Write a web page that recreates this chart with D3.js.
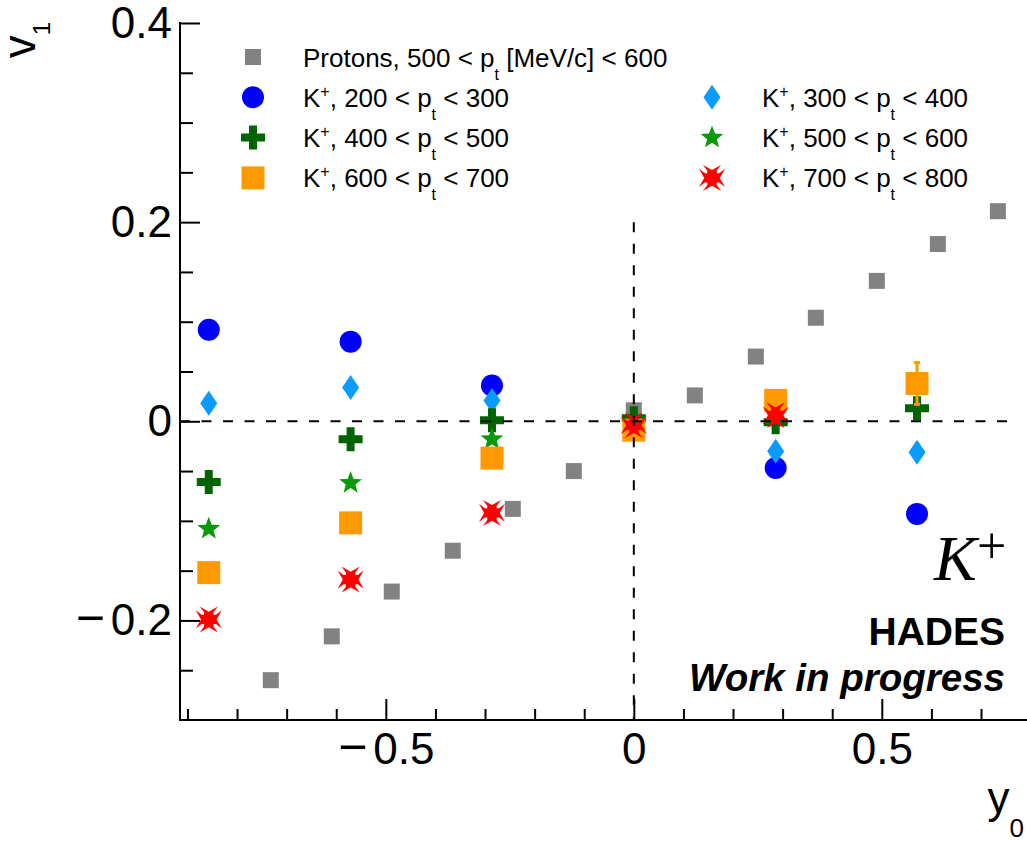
<!DOCTYPE html>
<html>
<head>
<meta charset="utf-8">
<script src="https://cdn.jsdelivr.net/npm/d3@7/dist/d3.min.js"></script>
<style>
  body { margin: 0; background: #fff; }
  svg { display: block; font-family: "Liberation Sans", Arial, Helvetica, sans-serif; }
</style>
</head>
<body>
<div id="plot"></div>
<script>
// rapidity bins of the K+ points
var kY0 = [-0.857, -0.571, -0.286, 0, 0.286, 0.571];

// protons, 500 < pt < 600
var protonY0 = [-0.732, -0.609, -0.488, -0.365, -0.244, -0.121, 0, 0.123, 0.246, 0.367, 0.490, 0.613, 0.734];
var protonV1 = [-0.260, -0.216, -0.171, -0.130, -0.088, -0.050, 0.011, 0.026, 0.065, 0.104, 0.141, 0.178, 0.211];

// K+ v1 per pt bin (null = not drawn)
var k200 = [0.092, 0.080, 0.036, null, -0.047, -0.093];
var k300 = [0.018, 0.034, 0.021, null, -0.030, -0.031];
var k400 = [-0.061, -0.018, 0.001, 0.003, -0.001, 0.013];
var k500 = [-0.108, -0.062, -0.018, null, null, null];
var k600 = [-0.152, -0.102, -0.037, -0.009, 0.021, 0.038];
var k700 = [-0.199, -0.159, -0.092, -0.004, 0.006, null];
var k600Err = [0, 0, 0, 0, 0, 0.021];

var legendLabels = [
  "Protons, 500 < p_t [MeV/c] < 600",
  "K^+, 200 < p_t < 300",
  "K^+, 300 < p_t < 400",
  "K^+, 400 < p_t < 500",
  "K^+, 500 < p_t < 600",
  "K^+, 600 < p_t < 700",
  "K^+, 700 < p_t < 800"
];

var xMajorTicks = [-0.5, 0, 0.5];
var xMinorTicks = [-0.9, -0.8, -0.7, -0.6, -0.4, -0.3, -0.2, -0.1, 0.1, 0.2, 0.3, 0.4, 0.6, 0.7];
var yMajorTicks = [-0.2, 0, 0.2, 0.4];
var yMinorTicks = [-0.25, -0.15, -0.1, -0.05, 0.05, 0.1, 0.15, 0.25, 0.3, 0.35];

// dashed reference lines
var zeroLineX = [-0.915, 0.765];
var midLineV = [-0.3, 0.2];

var width = 1027, height = 841;

var x = d3.scaleLinear().domain([-0.915, 0.8]).range([180, 1030.6]);
var y = d3.scaleLinear().domain([-0.3, 0.4]).range([720, 23]);

var svg = d3.select("#plot").append("svg")
  .attr("width", width)
  .attr("height", height);

// marker shapes, centred on 0,0
function markerPath(type, s) {
  var h = s / 2, p;
  if (type == "square") {
    return "M" + (-h) + "," + (-h) + "h" + s + "v" + s + "h" + (-s) + "Z";
  }
  if (type == "circle") {
    return "M" + (-h) + ",0A" + h + "," + h + " 0 1,0 " + h + ",0A" + h + "," + h + " 0 1,0 " + (-h) + ",0Z";
  }
  if (type == "diamond") {
    var w = s * 0.34;
    return "M0," + (-h) + "L" + w + ",0L0," + h + "L" + (-w) + ",0Z";
  }
  if (type == "cross") {
    var t = s / 6;
    p = [[-t,-h],[t,-h],[t,-t],[h,-t],[h,t],[t,t],[t,h],[-t,h],[-t,t],[-h,t],[-h,-t],[-t,-t]];
    return "M" + p.join("L") + "Z";
  }
  if (type == "star") {
    p = [];
    for (var i = 0; i < 10; i++) {
      var r = i % 2 ? h * 0.42 : h;
      var a = -Math.PI / 2 + i * Math.PI / 5;
      p.push([r * Math.cos(a), r * Math.sin(a)]);
    }
    return "M" + p.join("L") + "Z";
  }
  // notched cross (red)
  var c = 0.36 * h, e = 0.7 * h, n = 0.6 * h, k = 0.55 * h;
  p = [[-c,-c],[-c,-k],[-e,-h],[0,-n],[e,-h],[c,-k],[c,-c],
       [k,-c],[h,-e],[n,0],[h,e],[k,c],[c,c],
       [c,k],[e,h],[0,n],[-e,h],[-c,k],[-c,c],
       [-k,c],[-h,e],[-n,0],[-h,-e],[-k,-c]];
  return "M" + p.join("L") + "Z";
}

var series = [
  {y0: protonY0, v: protonV1, shape: "square", size: 16, color: "#828282"},
  {y0: kY0, v: k200, shape: "circle", size: 22, color: "#0000ff"},
  {y0: kY0, v: k300, shape: "diamond", size: 25, color: "#0a9bff"},
  {y0: kY0, v: k400, shape: "cross", size: 24, color: "#006400"},
  {y0: kY0, v: k500, shape: "star", size: 24, color: "#0a990a"},
  {y0: kY0, v: k600, err: k600Err, shape: "square", size: 23, color: "#ff9900"},
  {y0: kY0, v: k700, shape: "xcross", size: 26, color: "#ff0000"}
];

function noLabel() { return ""; }

//Axes ticks (pointing inside the frame)
function ticks(axis, g) {
  g.call(axis);
  g.select(".domain").remove();
  g.selectAll("line").attr("stroke", "#000").attr("stroke-width", 2);
}

ticks(d3.axisBottom(x).tickValues(xMinorTicks).tickSize(-11).tickFormat(noLabel),
  svg.append("g").attr("transform", "translate(0,720)"));
ticks(d3.axisLeft(y).tickValues(yMinorTicks).tickSize(-13).tickFormat(noLabel),
  svg.append("g").attr("transform", "translate(180,0)"));

var xMaj = svg.append("g").attr("class", "major").attr("transform", "translate(0,720)");
ticks(d3.axisBottom(x).tickValues(xMajorTicks).tickSize(-21).tickPadding(13)
  .tickFormat(d3.format("")), xMaj);
var yMaj = svg.append("g").attr("class", "major").attr("transform", "translate(180,0)");
ticks(d3.axisLeft(y).tickValues(yMajorTicks).tickSize(-20).tickPadding(8)
  .tickFormat(d3.format("")), yMaj);

// tick labels: a little more room after the minus sign
svg.selectAll(".major .tick text")
  .style("font-size", "44px")
  .style("font-family", "'Liberation Sans', Arial, sans-serif")
  .attr("fill", "#000")
  .each(function(d) {
    var t = d3.select(this);
    if (d < 0) {
      t.text(null);
      t.append("tspan").style("font-size", "50px").text("\u2212");
      t.append("tspan").attr("dx", 6).text(d3.format("")(-d));
    }
  });

// frame lines
svg.append("line").attr("x1", 180).attr("x2", 180).attr("y1", 22).attr("y2", 721)
  .attr("stroke", "#000").attr("stroke-width", 2);
svg.append("line").attr("x1", 179).attr("x2", width).attr("y1", 720).attr("y2", 720)
  .attr("stroke", "#000").attr("stroke-width", 2);

//Data points
series.forEach(function(s) {
  var pts = s.y0.map(function(d, i) {
    return {x: d, v: s.v[i], e: s.err ? s.err[i] : 0};
  }).filter(function(p) { return p.v !== null; });

  var g = svg.append("g");
  pts.filter(function(p) { return p.e > 0; }).forEach(function(p) {
    g.append("line")
      .attr("x1", x(p.x)).attr("x2", x(p.x))
      .attr("y1", y(p.v - p.e)).attr("y2", y(p.v + p.e))
      .attr("stroke", s.color).attr("stroke-width", 3);
    [p.v - p.e, p.v + p.e].forEach(function(v) {
      g.append("rect")
        .attr("x", x(p.x) - 3).attr("y", y(v) - 1.5)
        .attr("width", 6).attr("height", 3)
        .attr("fill", s.color);
    });
  });

  g.selectAll("path").data(pts).enter().append("path")
    .attr("d", markerPath(s.shape, s.size))
    .attr("transform", function(p) { return "translate(" + x(p.x) + "," + y(p.v) + ")"; })
    .attr("fill", s.color);
});

//Dashed lines on top
svg.append("line")
  .attr("x1", x(zeroLineX[0])).attr("x2", x(zeroLineX[1]))
  .attr("y1", y(0)).attr("y2", y(0))
  .attr("stroke", "#000").attr("stroke-width", 2).attr("stroke-dasharray", "10,11.5");
svg.append("line")
  .attr("x1", x(0)).attr("x2", x(0))
  .attr("y1", y(midLineV[1])).attr("y2", y(midLineV[0]))
  .attr("stroke", "#000").attr("stroke-width", 2).attr("stroke-dasharray", "10,11.5");

//Legend
var legendPos = [[0, 0], [0, 1], [1, 1], [0, 2], [1, 2], [0, 3], [1, 3]];
var legend = svg.append("g");

function richText(sel, str) {
  var parts = str.split(/(\^\+|_t)/);
  var shift = 0;
  parts.forEach(function(part) {
    if (part == "") return;
    if (part == "^+" || part == "_t") {
      var d = part == "^+" ? -10 : 13;
      sel.append("tspan").attr("dy", d - shift).style("font-size", "16px").text(part.slice(1));
      shift = d;
    } else {
      sel.append("tspan").attr("dy", -shift).text(part);
      shift = 0;
    }
  });
}

legendLabels.forEach(function(lab, i) {
  var col = legendPos[i][0], row = legendPos[i][1];
  var mx = col ? 712 : 253, my = 57 + row * 40.3;
  legend.append("path")
    .attr("d", markerPath(series[i].shape, series[i].size))
    .attr("transform", "translate(" + mx + "," + my + ")")
    .attr("fill", series[i].color);
  var t = legend.append("text")
    .attr("x", mx + 50).attr("y", my + 9.5)
    .style("font-size", "26px");
  richText(t, lab);
});

//Axis titles
var vt = svg.append("text")
  .attr("transform", "translate(35,22) rotate(-90)")
  .attr("text-anchor", "end")
  .style("font-size", "46px");
vt.append("tspan").text("v");
vt.append("tspan").attr("dy", 15).style("font-size", "24px").text("1");

var yt = svg.append("text")
  .attr("x", 1024).attr("y", 813)
  .attr("text-anchor", "end")
  .style("font-size", "44px");
yt.append("tspan").text("y");
yt.append("tspan").attr("dy", 24).style("font-size", "26px").text("0");

//Labels
svg.append("text")
  .attr("x", 934).attr("y", 580)
  .style("font-family", "'Liberation Serif', 'Times New Roman', serif")
  .style("font-style", "italic")
  .style("font-size", "64px")
  .text("K");
svg.append("text")
  .attr("x", 977).attr("y", 563)
  .style("font-family", "'Liberation Serif', 'Times New Roman', serif")
  .style("font-size", "52px")
  .text("+");

svg.append("text")
  .attr("x", 1005).attr("y", 645)
  .attr("text-anchor", "end")
  .style("font-weight", "bold")
  .style("font-size", "39px")
  .text("HADES");
svg.append("text")
  .attr("x", 1005).attr("y", 691)
  .attr("text-anchor", "end")
  .style("font-weight", "bold")
  .style("font-style", "italic")
  .style("font-size", "38.5px")
  .text("Work in progress");
</script>
</body>
</html>
